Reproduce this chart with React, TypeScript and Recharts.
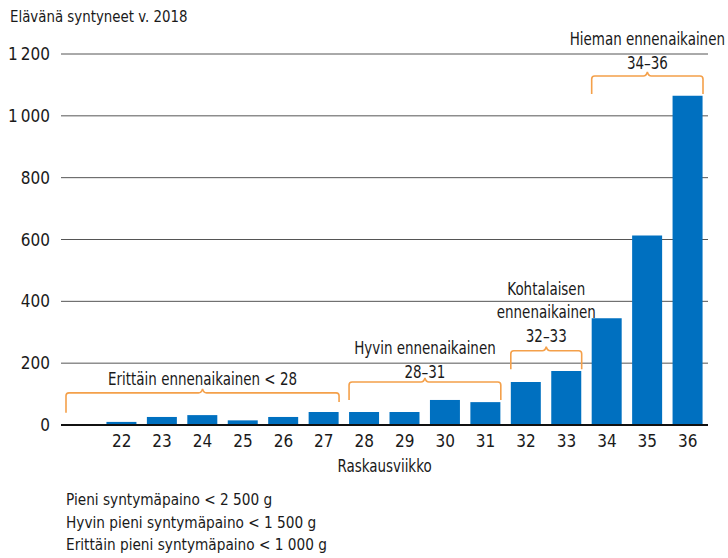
import { BarChart, Bar, XAxis, YAxis, CartesianGrid, ReferenceArea } from "recharts";

const FONT = "'Liberation Sans Narrow', 'DejaVu Sans Condensed', 'Arial Narrow', sans-serif";
const BLUE = "#0070c0";
const ORANGE = "#f4a04a";
const INK = "#1a1a1a";
const SQUEEZE = 0.88;

const weeks = ["alle 22", "22", "23", "24", "25", "26", "27", "28", "29", "30", "31", "32", "33", "34", "35", "36"];
const births = [3, 10, 26, 32, 15, 26, 42, 42, 42, 81, 74, 139, 175, 345, 613, 1065];
const yTicks = [0, 200, 400, 600, 800, 1000, 1200];

const footnotes = [
  "Pieni syntymäpaino < 2 500 g",
  "Hyvin pieni syntymäpaino < 1 500 g",
  "Erittäin pieni syntymäpaino < 1 000 g",
];

// bracket groups: from/to week, top of bracket and leg ends in chart units
const groups = [
  { from: "alle 22", to: "27", top: 104, leftEnd: 40, rightEnd: 74, gap: 14, lines: ["Erittäin ennenaikainen < 28"] },
  { from: "28", to: "31", top: 139, leftEnd: 81, rightEnd: 81, gap: 10, lines: ["Hyvin ennenaikainen", "28–31"] },
  { from: "32", to: "33", top: 240, leftEnd: 180, rightEnd: 180, gap: 15, lines: ["Kohtalaisen", "ennenaikainen", "32–33"] },
  { from: "34", to: "36", top: 1129, leftEnd: 1071, rightEnd: 1071, gap: 13, lines: ["Hieman ennenaikainen", "34–36"] },
];

const data = weeks.map((w, i) => ({ week: w, value: births[i] }));

function fmt(v: number) {
  return String(v).replace(/\B(?=(\d{3})+(?!\d))/g, "\u2009");
}

function NarrowText({ x, y, children }: any) {
  return (
    <text
      transform={`translate(${x},${y}) scale(${SQUEEZE},1)`}
      textAnchor="middle"
      dominantBaseline="central"
      fontSize={17}
      fontFamily={FONT}
      fill={INK}
    >
      {children}
    </text>
  );
}

function Bracket(props: any) {
  const { x, y, width, height, g } = props;
  const py = (v: number) => y + height - (v * height) / g.top;
  const l = x + 5;
  const r = x + width - 5;
  const t = y;
  const cx = (l + r) / 2;
  const rr = 3;
  const d =
    `M${l},${py(g.leftEnd)} L${l},${t + rr} Q${l},${t} ${l + rr},${t} ` +
    `L${cx - 4},${t} Q${cx - 1},${t} ${cx},${t - 4} Q${cx + 1},${t} ${cx + 4},${t} ` +
    `L${r - rr},${t} Q${r},${t} ${r},${t + rr} L${r},${py(g.rightEnd)}`;
  const n = g.lines.length;
  return (
    <g>
      <path d={d} fill="none" stroke={ORANGE} strokeWidth={1.6} />
      {g.lines.map((s: string, i: number) => (
        <NarrowText key={i} x={cx} y={t - g.gap - (n - 1 - i) * 23.5}>
          {s}
        </NarrowText>
      ))}
    </g>
  );
}

function AxisTitle(props: any) {
  const vb = props.viewBox;
  return (
    <NarrowText x={vb.x + vb.width / 2} y={vb.y + 41}>
      Raskausviikko
    </NarrowText>
  );
}

export default function App() {
  return (
    <div style={{ position: "relative", width: 728, height: 558, fontFamily: FONT, color: INK, background: "#fff" }}>
      <style>{`body{margin:0}`}</style>
      <div
        style={{
          position: "absolute",
          left: 10,
          top: 7,
          fontSize: 16.5,
          lineHeight: "20px",
          whiteSpace: "nowrap",
          transform: "scaleX(0.9)",
          transformOrigin: "left top",
        }}
      >
        Elävänä syntyneet v. 2018
      </div>
      <BarChart width={728} height={558} data={data} margin={{ top: 54, right: 20, bottom: 83, left: 0 }}>
        <CartesianGrid vertical={false} stroke="#555" strokeWidth={1} />
        <XAxis
          dataKey="week"
          height={50}
          tickLine={false}
          tickSize={0}
          tickMargin={10}
          axisLine={{ stroke: "#111", strokeWidth: 2 }}
          interval={0}
          tick={{ fontSize: 17, fill: INK, fontFamily: FONT }}
          tickFormatter={(v) => (v === "alle 22" ? "" : v)}
          label={{ content: AxisTitle }}
        />
        <YAxis
          width={61}
          domain={[0, 1200]}
          ticks={yTicks}
          axisLine={false}
          tickLine={false}
          tickSize={0}
          tickMargin={11}
          tick={{ fontSize: 17, fill: INK, fontFamily: FONT }}
          tickFormatter={fmt}
        />
        <Bar dataKey="value" fill={BLUE} barSize={30} isAnimationActive={false} />
        {groups.map((g) => (
          <ReferenceArea
            key={g.from}
            x1={g.from}
            x2={g.to}
            y1={0}
            y2={g.top}
            ifOverflow="visible"
            shape={(p: any) => <Bracket {...p} g={g} />}
          />
        ))}
      </BarChart>
      <div
        style={{
          position: "absolute",
          left: 66,
          top: 489,
          fontSize: 16,
          lineHeight: "22.5px",
          whiteSpace: "nowrap",
          transform: "scaleX(0.95)",
          transformOrigin: "left top",
        }}
      >
        {footnotes.map((f) => (
          <div key={f}>{f}</div>
        ))}
      </div>
    </div>
  );
}
